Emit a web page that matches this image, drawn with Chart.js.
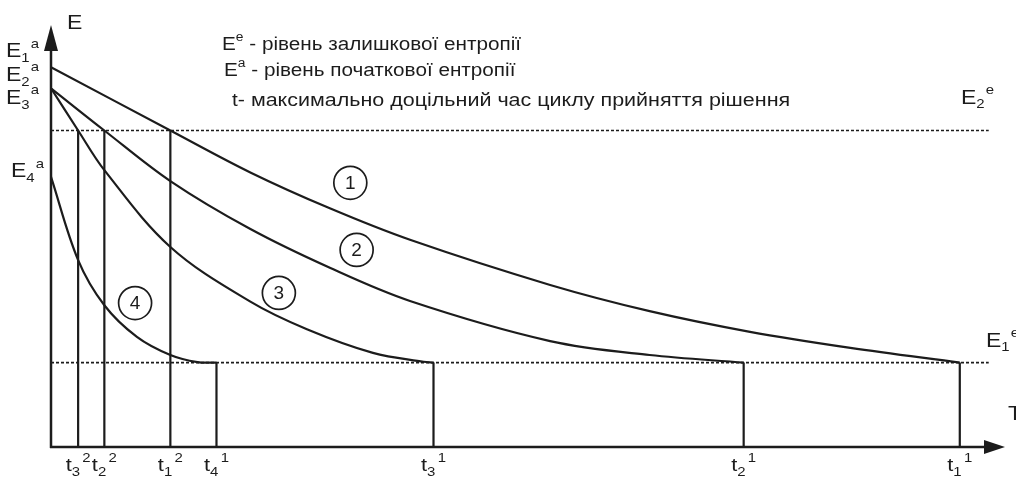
<!DOCTYPE html>
<html lang="uk">
<head>
<meta charset="utf-8">
<title>Рівень ентропії</title>
<script src="https://cdn.jsdelivr.net/npm/chart.js@4.4.1/dist/chart.umd.min.js"></script>
<style>
  html, body { margin: 0; padding: 0; background: #fff; }
  #entropyChart { display: block; }
</style>
</head>
<body>
<canvas id="entropyChart" width="1016" height="477"></canvas>
<script>
// curve 1..4 : time -> entropy level
const curve1T = [0, 13.2, 22.1, 30.9, 39.7, 55.2, 66.2, 77.3, 88.4, 100.5];
const curve1E = [90, 75, 65, 56.5, 49.1, 38.4, 32.2, 27.3, 23.5, 20];

const curve2T = [0, 5.9, 13.2, 22, 30.9, 39.7, 55.2, 66.2, 76.6];
const curve2E = [85, 75, 63, 51.7, 42.4, 34.6, 25.1, 21.8, 20];

const curve3T = [0, 3, 5.9, 13.2, 22, 28.3, 35.6, 41.2, 42.3];
const curve3E = [85, 75, 65.6, 47.4, 34.5, 27.9, 22.3, 20.2, 20];

const curve4T = [0, 3, 5.9, 9.5, 13.2, 16.2, 18.3];
const curve4E = [64, 44.3, 33.6, 26.1, 21.8, 20.1, 20];

// residual entropy levels E1e, E2e
const residualLevels = [20, 75];
const residualEnd = 103.7;

// decision times t and the level where each drop line starts
const tStops = [3.0, 5.9, 13.2, 18.3, 42.3, 76.6, 100.5];
const tStopTop = [75, 75, 75, 20, 20, 20, 20];
const tSub = ["3", "2", "1", "4", "3", "2", "1"];
const tSup = ["2", "2", "2", "1", "1", "1", "1"];

// initial entropy tick labels E1a..E4a
const initialLabelLevels = [94, 88.4, 83, 65.6];
const initialSub = ["1", "2", "3", "4"];

const legendLines = [
  ["E", "e", " - рівень залишкової ентропії"],
  ["E", "a", " - рівень початкової ентропії"],
  ["t", "", "- максимально доцільний час циклу прийняття рішення"],
];

const ink = "#1c1c1c";
const fontFamily = "'Liberation Sans', Arial, sans-serif";
const stretch = 1.15; // the scanned lettering is wider than Arial

function toPoints(ts, es) {
  return ts.map((t, i) => ({ x: t, y: es[i] }));
}

const dropPoints = [];
tStops.forEach((t, i) => {
  dropPoints.push({ x: t, y: tStopTop[i] });
  dropPoints.push({ x: t, y: 0 });
  dropPoints.push({ x: t, y: null });
});

function curveSet(points) {
  return {
    data: points,
    borderColor: ink,
    borderWidth: 2.2,
    tension: 0.35,
    pointRadius: 0,
    fill: false,
  };
}

function levelSet(level) {
  return {
    data: [{ x: 0, y: level }, { x: residualEnd, y: level }],
    borderColor: ink,
    borderWidth: 1.7,
    borderDash: [3, 2],
    pointRadius: 0,
    fill: false,
  };
}

// draws base + subscript + superscript, returns right edge
function drawIndexed(ctx, left, baseline, base, sub, sup, size, small, gap, measureOnly) {
  ctx.save();
  ctx.translate(left, baseline);
  ctx.scale(stretch, 1);
  ctx.font = size + "px " + fontFamily;
  if (!measureOnly) ctx.fillText(base, 0, 0);
  let cx = ctx.measureText(base).width;
  ctx.font = small + "px " + fontFamily;
  if (sub) {
    if (!measureOnly) ctx.fillText(sub, cx, size * 0.24);
    cx += ctx.measureText(sub).width;
  }
  if (sup) {
    if (!measureOnly) ctx.fillText(sup, cx + gap, -size * 0.48);
    cx += ctx.measureText(sup).width + gap;
  }
  ctx.restore();
  return left + cx * stretch;
}

function drawWide(ctx, text, left, baseline, size) {
  ctx.save();
  ctx.translate(left, baseline);
  ctx.scale(stretch, 1);
  ctx.font = size + "px " + fontFamily;
  ctx.fillText(text, 0, 0);
  ctx.restore();
}

const decorations = {
  id: "decorations",
  afterDatasetsDraw(chart) {
    const { ctx, chartArea, scales } = chart;
    const xs = scales.x;
    const ys = scales.y;
    const x0 = xs.getPixelForValue(0);
    const y0 = ys.getPixelForValue(0);

    ctx.save();
    ctx.strokeStyle = ink;
    ctx.fillStyle = ink;

    // axes
    ctx.lineWidth = 2.5;
    ctx.beginPath();
    ctx.moveTo(x0, y0 + 1);
    ctx.lineTo(x0, chartArea.top + 20);
    ctx.moveTo(x0 - 1, y0);
    ctx.lineTo(chartArea.right - 16, y0);
    ctx.stroke();

    // arrows
    ctx.beginPath();
    ctx.moveTo(x0, chartArea.top);
    ctx.lineTo(x0 - 7, chartArea.top + 26);
    ctx.lineTo(x0 + 7, chartArea.top + 26);
    ctx.closePath();
    ctx.fill();
    ctx.beginPath();
    ctx.moveTo(chartArea.right, y0);
    ctx.lineTo(chartArea.right - 21, y0 - 7);
    ctx.lineTo(chartArea.right - 21, y0 + 7);
    ctx.closePath();
    ctx.fill();

    ctx.textBaseline = "alphabetic";
    ctx.textAlign = "left";

    // axis names
    drawWide(ctx, "E", x0 + 16, chartArea.top + 4, 20);
    drawWide(ctx, "T", chartArea.right + 3, y0 - 27, 20);

    // initial entropy labels
    initialLabelLevels.forEach((v, i) => {
      const left = i === 3 ? 11 : 6;
      drawIndexed(ctx, left, ys.getPixelForValue(v) + 7, "E", initialSub[i], "a", 20, 13, 1);
    });

    // residual entropy labels
    drawIndexed(ctx, 986, ys.getPixelForValue(residualLevels[0]) - 16, "E", "1", "e", 20, 13, 1);
    drawIndexed(ctx, 961, ys.getPixelForValue(residualLevels[1]) - 27, "E", "2", "e", 20, 13, 1);

    // time labels
    tStops.forEach((t, i) => {
      const w = drawIndexed(ctx, 0, 0, "t", tSub[i], tSup[i], 19, 13, 2, true);
      drawIndexed(ctx, xs.getPixelForValue(t) - w / 2, y0 + 24, "t", tSub[i], tSup[i], 19, 13, 2);
    });

    // legend text
    const legendLeft = [222, 224, 232];
    const legendBase = [50, 76, 106];
    const legendSize = [18, 18, 18.7];
    legendLines.forEach((line, i) => {
      const end = drawIndexed(ctx, legendLeft[i], legendBase[i], line[0], "", line[1], 18, 12, 0);
      drawWide(ctx, line[2], end, legendBase[i], legendSize[i]);
    });

    // curve numbers
    const marks = [
      ["1", 33.1, 62.6],
      ["2", 33.8, 46.7],
      ["3", 25.2, 36.5],
      ["4", 9.3, 34.1],
    ];
    ctx.lineWidth = 1.7;
    ctx.textAlign = "center";
    ctx.textBaseline = "middle";
    ctx.font = "19px " + fontFamily;
    marks.forEach(([label, t, e]) => {
      const cx = xs.getPixelForValue(t);
      const cy = ys.getPixelForValue(e);
      ctx.beginPath();
      ctx.arc(cx, cy, 16.5, 0, Math.PI * 2);
      ctx.stroke();
      ctx.fillText(label, cx, cy + 1);
    });

    ctx.restore();
  },
};

const ctx = document.getElementById("entropyChart");

const entropyChart = new Chart(ctx, {
  type: "line",
  data: {
    datasets: [
      curveSet(toPoints(curve1T, curve1E)),
      curveSet(toPoints(curve2T, curve2E)),
      curveSet(toPoints(curve3T, curve3E)),
      curveSet(toPoints(curve4T, curve4E)),
      levelSet(residualLevels[0]),
      levelSet(residualLevels[1]),
      {
        data: dropPoints,
        borderColor: ink,
        borderWidth: 2.2,
        pointRadius: 0,
        spanGaps: false,
        fill: false,
      },
    ],
  },
  options: {
    responsive: false,
    animation: false,
    layout: {
      padding: { left: 51, right: 11, top: 25, bottom: 30 },
    },
    plugins: {
      legend: { display: false },
      tooltip: { enabled: false },
    },
    scales: {
      x: { type: "linear", min: 0, max: 105.5, display: false },
      y: { type: "linear", min: 0, max: 100, display: false },
    },
  },
  plugins: [decorations],
});
</script>
</body>
</html>
